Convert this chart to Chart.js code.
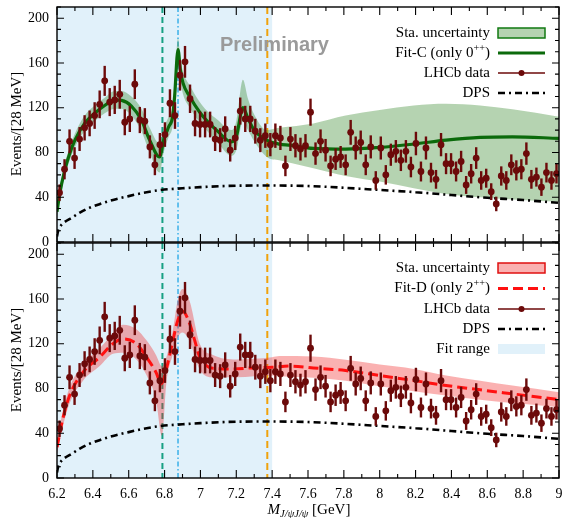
<!DOCTYPE html>
<html><head><meta charset="utf-8">
<script src="https://cdn.jsdelivr.net/npm/chart.js@4/dist/chart.umd.min.js"></script>
<style>
html,body{margin:0;padding:0;background:#fff;}
#wrap{position:relative;width:565px;height:518px;overflow:hidden;}
canvas{position:absolute;left:0;}
#c1{top:0;} #c2{top:236px;}
</style></head><body>
<div id="wrap"><canvas id="c1" width="565" height="250"></canvas><canvas id="c2" width="565" height="282"></canvas></div>
<script>
// ---------------- DATA ----------------
const binCenters = [6.214,6.242,6.270,6.298,6.326,6.354,6.382,6.410,6.438,6.466,6.494,6.522,6.550,6.578,6.606,6.634,6.662,6.690,6.718,6.746,
6.774,6.802,6.830,6.858,6.886,6.914,6.942,6.970,6.998,7.026,7.054,7.082,7.110,7.138,7.166,7.194,7.222,7.250,7.278,7.306,
7.334,7.362,7.390,7.418,7.446,7.474,7.502,7.530,7.558,7.586,7.614,7.642,7.670,7.698,7.726,7.754,7.782,7.810,7.838,7.866,
7.894,7.922,7.950,7.978,8.006,8.034,8.062,8.090,8.118,8.146,8.174,8.202,8.230,8.258,8.286,8.314,8.342,8.370,8.398,8.426,
8.454,8.482,8.510,8.538,8.566,8.594,8.622,8.650,8.678,8.706,8.734,8.762,8.790,8.818,8.846,8.874,8.902,8.930,8.958,8.986];
const counts = [44,65,90,75,92,102,106,113,123,144, 125,127,132,107,110,141,109,108,85,69,
87,96,124,113,149,161,128,106,105,105, 105,92,91,101,82,93,117,110,110,99,
91,95,87,95,93,68,92,86,83,86, 116,79,90,82,68,74,76,69,98,84,
89,69,85,55,84,60,78,81,73,81, 67,88,63,84,62,56,87,70,70,63,
72,51,61,75,55,57,45,34,59,55, 69,64,65,79,56,58,49,62,55,61];
const countErrors = [7.4,9.0,10.6,9.7,10.7,11.3,11.5,11.9,12.4,13.4, 12.5,12.6,12.9,11.6,11.7,13.3,11.7,11.6,10.3,9.3,
10.4,11.0,12.5,11.9,13.7,14.2,12.7,11.5,11.5,11.5, 11.5,10.7,10.7,11.3,10.1,10.8,12.1,11.7,11.7,11.1,
10.7,10.9,10.4,10.9,10.8,9.2,10.7,10.4,10.2,10.4, 12.1,10.0,10.6,10.1,9.2,9.6,9.8,9.3,11.1,10.3,
10.6,9.3,10.3,8.3,10.3,8.7,9.9,10.1,9.6,10.1, 9.2,10.5,8.9,10.3,8.8,8.4,10.4,9.4,9.4,8.9,
9.5,8.0,8.7,9.7,8.3,8.5,7.5,6.5,8.6,8.3, 9.3,9.0,9.0,10.0,8.4,8.5,7.8,8.8,8.3,8.7];

const fitCX = [6.2,6.215,6.243,6.271,6.3,6.354,6.41,6.466,6.522,6.56,6.615,6.671,6.717,6.772,6.795,6.823,6.845,6.856,6.875,6.888,6.903,6.94,6.996,7.05,7.09,7.173,7.2,7.237,7.265,7.3,7.37,7.44,7.5,7.63,7.81,8.0,8.19,8.37,8.56,8.74,9.0];
const fitCY = [27,43,64,79,91,106,115,122,127,126.6,121.5,109,91,76,91,103,112,130,172,154,142,130,116,106,100,89.5,94,120,110.5,100,91,87.5,86.5,83.6,83,84.5,87.5,91,93.5,94,92.6];
const bandCX = [6.2,6.215,6.243,6.271,6.3,6.354,6.41,6.466,6.522,6.56,6.615,6.671,6.717,6.772,6.795,6.823,6.845,6.856,6.875,6.888,6.903,6.94,6.996,7.05,7.09,7.173,7.2,7.237,7.265,7.3,7.37,7.44,7.63,7.81,8.0,8.19,8.37,8.56,8.74,9.0];
const bandCLow = [22,38,58,73,85,99,108,115,119,119,113,99,80,62,80,94,103,118,160,144,132,120,107,97,90,77,82,108,100,90,76,73,66,59,54,48,43,40,38,36];
const bandCHigh = [32,48,70,85,97,113,122,129,135,135,130,119,102,88,102,112,121,142,182,164,152,140,125,115,110,100,108,145,128,114,100,102,106,113,118,122,123.5,122,118.6,112];

const fitDX = [6.2,6.234,6.271,6.345,6.438,6.512,6.568,6.643,6.699,6.752,6.782,6.81,6.847,6.872,6.9,6.94,6.968,6.996,7.033,7.07,7.18,7.29,7.4,7.5,7.63,7.81,8.0,8.19,8.37,8.56,8.74,9.0];
const fitDY = [27.6,54,74,94.5,108,120,124.3,120,108,94.5,84,97.5,123,140,149,138,123,108,100.5,98,97.5,98.4,99,100,98.4,96,91.6,87.1,82.7,78.8,75.2,70];
const bandDX = [6.2,6.234,6.271,6.345,6.438,6.512,6.568,6.643,6.699,6.752,6.785,6.81,6.847,6.872,6.9,6.94,6.996,7.07,7.2,7.4,7.44,7.63,7.81,8.0,8.19,8.37,8.56,8.74,9.0];
const bandDLow = [22,47,67,87,100,111,112,106,92,70,38,85,111,125,130,122,97,90,90,91.5,91,89.5,87,82,77.6,73.7,70,67,63.3];
const bandDHigh = [34,61,81,102,116,129,137,133,123,110,100,108,133,158,169,158,120,110,106,108,109,108.5,105.6,101.4,97.5,91.6,87,82.7,76.7];

const dpsX = [6.2,6.205,6.215,6.24,6.28,6.33,6.38,6.44,6.5,6.6,6.7,6.78,6.9,7.0,7.2,7.4,7.6,7.8,8.0,8.2,8.4,8.6,8.8,9.0];
const dpsY = [5,9,13,17.5,21.5,26.5,30.5,34,37,41,44.5,46.5,48,49,50.3,50.5,50,48.5,46.5,44.5,42,39.5,37.5,35];

const xTickValues = [6.2,6.4,6.6,6.8,7.0,7.2,7.4,7.6,7.8,8.0,8.2,8.4,8.6,8.8,9.0];
const xTickLabels = ['6.2','6.4','6.6','6.8','7','7.2','7.4','7.6','7.8','8','8.2','8.4','8.6','8.8','9'];
const yTickValues = [0,40,80,120,160,200];
const fitRange = [6.2, 7.4];
const markerLines = [6.788, 6.875, 7.373];

// ---------------- STYLE ----------------
const SERIF = "'Liberation Serif','DejaVu Serif',serif";
const C_DATA = '#6c0a0a';
const C_GREEN = '#0b6a0b';
const C_GREENBAND = 'rgba(60,140,50,0.38)';
const C_RED = '#ff1010';
const C_REDBAND = 'rgba(240,40,40,0.36)';
const C_FITRANGE = '#e1f1fa';

function pts(xs, ys){ return xs.map((x,i)=>({x:x, y:ys[i]})); }

const errPlugin = {
  id:'errbars',
  beforeDatasetDraw(chart, args){
    const ds = chart.data.datasets[args.index];
    if(!ds.isData) return;
    const {ctx, scales:{y}} = chart;
    ctx.save();
    ctx.strokeStyle = C_DATA; ctx.lineWidth = 2.4;
    args.meta.data.forEach((el,i)=>{
      const v = counts[i], e = countErrors[i];
      ctx.beginPath();
      ctx.moveTo(el.x, y.getPixelForValue(v-e));
      ctx.lineTo(el.x, y.getPixelForValue(v+e));
      ctx.stroke();
    });
    ctx.restore();
  }
};

function textWithSup(ctx, parts, xRight, yMid, size){
  let w = 0;
  parts.forEach(p=>{ ctx.font = (p.sup? (size*0.68)+'px ':size+'px ')+SERIF; w += ctx.measureText(p.t).width; });
  let x = xRight - w;
  ctx.textAlign='left';
  parts.forEach(p=>{
    ctx.font = (p.sup? (size*0.68)+'px ':size+'px ')+SERIF;
    ctx.textBaseline='middle';
    ctx.fillText(p.t, x, p.sup ? yMid-5 : yMid);
    x += ctx.measureText(p.t).width;
  });
}

const framePlugin = {
  id:'frame',
  beforeDatasetsDraw(chart, args, opts){
    const {ctx, chartArea:a, scales:{x}} = chart;
    ctx.save();
    ctx.fillStyle = C_FITRANGE;
    const x0 = x.getPixelForValue(fitRange[0]), x1 = x.getPixelForValue(fitRange[1]);
    ctx.fillRect(x0, a.top, x1-x0, a.bottom-a.top);
    const styles = [
      {c:'#17a083', d:[6,4], w:2},
      {c:'#45b4ea', d:[5,2.5,1.5,2.5], w:1.6},
      {c:'#f0a20a', d:[7,4], w:2}
    ];
    markerLines.forEach((mv,i)=>{
      const s = styles[i];
      const px = x.getPixelForValue(mv);
      ctx.strokeStyle = s.c; ctx.lineWidth = s.w; ctx.setLineDash(s.d);
      ctx.beginPath(); ctx.moveTo(px, a.top); ctx.lineTo(px, a.bottom); ctx.stroke();
    });
    ctx.restore();
  },
  afterDraw(chart, args, opts){
    const {ctx, chartArea:a, scales:{x,y}} = chart;
    ctx.save();
    ctx.strokeStyle='#000'; ctx.lineWidth=1.4; ctx.setLineDash([]);
    ctx.strokeRect(a.left, a.top, a.right-a.left, a.bottom-a.top);
    ctx.lineWidth = 1.1;
    for(let k=0;k<=28;k++){
      const px = x.getPixelForValue(6.2 + k*0.1);
      const len = (k%2===0) ? 8 : 4;
      ctx.beginPath();
      ctx.moveTo(px, a.bottom); ctx.lineTo(px, a.bottom-len);
      ctx.moveTo(px, a.top); ctx.lineTo(px, a.top+len);
      ctx.stroke();
    }
    for(let v=0; v<=210; v+=10){
      const py = y.getPixelForValue(v);
      const len = (v%40===0) ? 7 : 4;
      ctx.beginPath();
      ctx.moveTo(a.left, py); ctx.lineTo(a.left+len, py);
      ctx.moveTo(a.right, py); ctx.lineTo(a.right-len, py);
      ctx.stroke();
    }
    // y title
    ctx.save();
    ctx.translate(17, opts.yTitleY);
    ctx.rotate(-Math.PI/2);
    ctx.font = '15px '+SERIF; ctx.fillStyle='#000';
    ctx.textAlign='center'; ctx.textBaseline='middle';
    ctx.fillText('Events/[28 MeV]', 0, 0);
    ctx.restore();
    // legend
    const L = opts.legend;
    const sL = 498, sR = 545;
    L.forEach(it=>{
      ctx.fillStyle = '#000';
      textWithSup(ctx, it.parts, 490, it.y, 15);
      ctx.setLineDash([]);
      if(it.kind==='band'){
        ctx.fillStyle = it.fill; ctx.fillRect(sL, it.y-5, sR-sL, 10);
        ctx.strokeStyle = it.stroke; ctx.lineWidth = 1.5; ctx.strokeRect(sL, it.y-5, sR-sL, 10);
      } else if(it.kind==='rect'){
        ctx.fillStyle = it.fill; ctx.fillRect(sL, it.y-5, sR-sL, 10);
      } else if(it.kind==='line'){
        ctx.strokeStyle = it.stroke; ctx.lineWidth = it.w; ctx.setLineDash(it.dash || []);
        ctx.beginPath(); ctx.moveTo(sL, it.y); ctx.lineTo(sR, it.y); ctx.stroke();
        ctx.setLineDash([]);
      } else if(it.kind==='data'){
        ctx.strokeStyle = C_DATA; ctx.lineWidth = 1.5;
        ctx.beginPath(); ctx.moveTo(sL, it.y); ctx.lineTo(sR, it.y); ctx.stroke();
        ctx.fillStyle = C_DATA; ctx.beginPath(); ctx.arc((sL+sR)/2, it.y, 3, 0, Math.PI*2); ctx.fill();
      }
    });
    if(opts.prelim){
      ctx.font = "bold 20px 'Liberation Sans','DejaVu Sans',sans-serif";
      ctx.fillStyle = '#9a9a9a'; ctx.textAlign='left'; ctx.textBaseline='middle';
      ctx.fillText('Preliminary', 220, 45);
    }
    if(opts.xTitle){
      const base = a.bottom + 36;
      const f1 = 'italic 15px '+SERIF, f2 = 'italic 10.5px '+SERIF, f3 = '15px '+SERIF;
      ctx.font=f1; const w1 = ctx.measureText('M').width;
      ctx.font=f2; const w2 = ctx.measureText('J/\u03c8J/\u03c8').width;
      ctx.font=f3; const w3 = ctx.measureText(' [GeV]').width;
      let xx = 309 - (w1+w2+w3)/2;
      ctx.fillStyle='#000'; ctx.textAlign='left'; ctx.textBaseline='alphabetic';
      ctx.font=f1; ctx.fillText('M', xx, base); xx+=w1;
      ctx.font=f2; ctx.fillText('J/\u03c8J/\u03c8', xx, base+3); xx+=w2;
      ctx.font=f3; ctx.fillText(' [GeV]', xx, base);
    }
    ctx.restore();
  }
};

const hiddenTicks = (len)=>({display:true, drawOnChartArea:false, drawTicks:true, tickLength:len, color:'rgba(0,0,0,0)', lineWidth:0});

function makeScales(showX){
  const xs = {type:'linear', min:6.2, max:9, display:showX,
       grid: hiddenTicks(9), border:{display:false},
       afterBuildTicks:(s)=>{ s.ticks = xTickValues.map(v=>({value:v})); },
       ticks:{callback:(v,i)=>xTickLabels[i], color:'#000', font:{family:SERIF, size:14, lineHeight:1}, padding:0, maxRotation:0, autoSkip:false}};
  if(showX) xs.afterFit = (s)=>{ s.height = 40; };
  return {
    x: xs,
    y:{type:'linear', min:0, max:210,
       grid: hiddenTicks(8), border:{display:false},
       afterBuildTicks:(s)=>{ s.ticks = yTickValues.map(v=>({value:v})); },
       afterFit:(s)=>{ s.width = 57; },
       ticks:{color:'#000', font:{family:SERIF, size:14, lineHeight:1}, padding:0}}
  };
}

function baseDatasets(bx, blo, bhi, bandColor, fx, fy, fitStyle){
  return [
    {data:pts(bx,blo), showLine:true, borderWidth:0, pointRadius:0, fill:false, cubicInterpolationMode:'monotone', order:6, borderColor:'rgba(0,0,0,0)'},
    {data:pts(bx,bhi), showLine:true, borderWidth:0, pointRadius:0, fill:'-1', backgroundColor:bandColor, cubicInterpolationMode:'monotone', order:6, borderColor:'rgba(0,0,0,0)'},
    {data:pts(dpsX,dpsY), showLine:true, borderColor:'#000', borderWidth:2.6, borderDash:[7,4,2,4], pointRadius:0, fill:false, cubicInterpolationMode:'monotone', order:4},
    Object.assign({data:pts(fx,fy), showLine:true, pointRadius:0, fill:false, cubicInterpolationMode:'monotone', order:3}, fitStyle),
    {isData:true, data:pts(binCenters,counts), showLine:false, pointRadius:3.4, pointBackgroundColor:C_DATA, pointBorderWidth:0, borderColor:C_DATA, order:1}
  ];
}

new Chart(document.getElementById('c1'), {
  type:'scatter',
  data:{datasets: baseDatasets(bandCX, bandCLow, bandCHigh, C_GREENBAND, fitCX, fitCY, {borderColor:C_GREEN, borderWidth:3.2})},
  options: {
    responsive:false, animation:false, events:[],
    layout:{autoPadding:false, padding:{left:0, right:6, top:7, bottom:8}},
    scales: makeScales(false),
    plugins:{legend:{display:false}, tooltip:{enabled:false},
      frame:{yTitleY:124, prelim:true, xTitle:false, legend:[
        {parts:[{t:'Sta. uncertainty'}], y:33, kind:'band', fill:C_GREENBAND, stroke:'#127a12'},
        {parts:[{t:'Fit-C (only 0'},{t:'++',sup:true},{t:')'}], y:53, kind:'line', stroke:C_GREEN, w:3.2},
        {parts:[{t:'LHCb data'}], y:73, kind:'data'},
        {parts:[{t:'DPS'}], y:93, kind:'line', stroke:'#000', w:2.6, dash:[7,4,2,4]}
      ]}}
  },
  plugins:[framePlugin, errPlugin]
});

new Chart(document.getElementById('c2'), {
  type:'scatter',
  data:{datasets: baseDatasets(bandDX, bandDLow, bandDHigh, C_REDBAND, fitDX, fitDY, {borderColor:C_RED, borderWidth:3, borderDash:[10,5]})},
  options: {
    responsive:false, animation:false, events:[],
    layout:{autoPadding:false, padding:{left:0, right:6, top:7, bottom:0}},
    scales: makeScales(true),
    plugins:{legend:{display:false}, tooltip:{enabled:false},
      frame:{yTitleY:124, prelim:false, xTitle:true, legend:[
        {parts:[{t:'Sta. uncertainty'}], y:32, kind:'band', fill:C_REDBAND, stroke:'#e01010'},
        {parts:[{t:'Fit-D (only 2'},{t:'++',sup:true},{t:')'}], y:52.5, kind:'line', stroke:C_RED, w:3, dash:[10,5]},
        {parts:[{t:'LHCb data'}], y:73, kind:'data'},
        {parts:[{t:'DPS'}], y:93, kind:'line', stroke:'#000', w:2.6, dash:[7,4,2,4]},
        {parts:[{t:'Fit range'}], y:113, kind:'rect', fill:C_FITRANGE}
      ]}}
  },
  plugins:[framePlugin, errPlugin]
});
</script></body></html>
